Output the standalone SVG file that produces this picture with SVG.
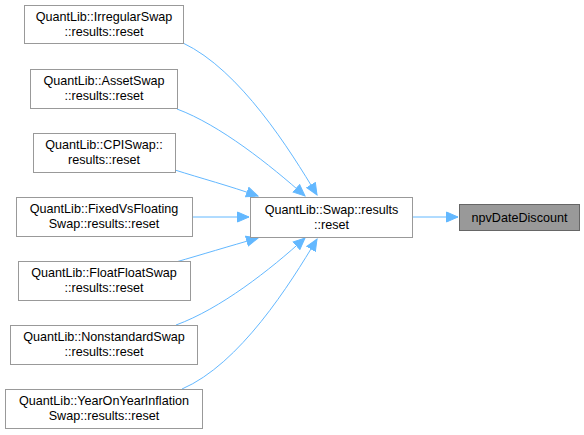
<svg xmlns="http://www.w3.org/2000/svg" width="584" height="435" viewBox="0 0 584 435">
<style>
.n rect{fill:#fff;stroke:#999;stroke-width:1}
.g rect{fill:#999;stroke:#666;stroke-width:1}
text{font-family:"Liberation Sans",Arial,sans-serif;font-size:12.6px;text-anchor:middle;fill:#000}
.e{fill:none;stroke:#63b8ff;stroke-width:1}
</style>
<defs>
<marker id="a" markerWidth="14" markerHeight="12" refX="12" refY="6" orient="auto" markerUnits="userSpaceOnUse">
<path d="M0.5,1 L12,6 L0.5,11 Z" fill="#63b8ff" stroke="#63b8ff"/>
</marker>
</defs>
<rect width="584" height="435" fill="#fff"/>
<g id="connectors">
<path class="e" marker-end="url(#a)" d="M412,217 L458,217"/>
<path class="e" marker-end="url(#a)" d="M183,43 C240,70 290,150 317,195"/>
<path class="e" marker-end="url(#a)" d="M177,109 C220,125 270,165 305,196"/>
<path class="e" marker-end="url(#a)" d="M175,170 C200,178 230,186 258,196"/>
<path class="e" marker-end="url(#a)" d="M192,217 L249,217"/>
<path class="e" marker-end="url(#a)" d="M176,262 C200,255 230,246 258,238"/>
<path class="e" marker-end="url(#a)" d="M176,325 C220,309 270,270 305,238"/>
<path class="e" marker-end="url(#a)" d="M182,389 C240,364 290,284 317,239"/>
</g>
<g id="node1" class="g"><rect x="459.5" y="204.5" width="120" height="26"/><text x="519.5" y="221.5">npvDateDiscount</text></g>
<g id="node2" class="n"><rect x="250.5" y="197.5" width="162" height="40"/><text x="331.5" y="213.5">QuantLib::Swap::results</text><text x="331.5" y="228.5">::reset</text></g>
<g id="node3" class="n"><rect x="24.5" y="5.5" width="159" height="38"/><text x="104" y="21">QuantLib::IrregularSwap</text><text x="104" y="36">::results::reset</text></g>
<g id="node4" class="n"><rect x="30.5" y="69.5" width="147" height="39"/><text x="104" y="85">QuantLib::AssetSwap</text><text x="104" y="100">::results::reset</text></g>
<g id="node5" class="n"><rect x="33.5" y="133.5" width="142" height="39"/><text x="104" y="149">QuantLib::CPISwap::</text><text x="104" y="164">results::reset</text></g>
<g id="node6" class="n"><rect x="16.5" y="197.5" width="176" height="39"/><text x="104" y="213">QuantLib::FixedVsFloating</text><text x="104" y="228">Swap::results::reset</text></g>
<g id="node7" class="n"><rect x="18.5" y="261.5" width="172" height="39"/><text x="104" y="277">QuantLib::FloatFloatSwap</text><text x="104" y="292">::results::reset</text></g>
<g id="node8" class="n"><rect x="10.5" y="325.5" width="187" height="39"/><text x="104" y="341">QuantLib::NonstandardSwap</text><text x="104" y="356">::results::reset</text></g>
<g id="node9" class="n"><rect x="5.5" y="389.5" width="197" height="39"/><text x="104" y="405">QuantLib::YearOnYearInflation</text><text x="104" y="420">Swap::results::reset</text></g>
</svg>
